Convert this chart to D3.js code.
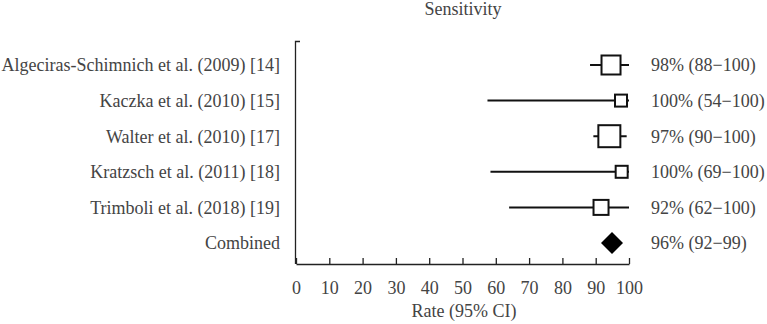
<!DOCTYPE html>
<html>
<head>
<meta charset="utf-8">
<script src="https://cdn.jsdelivr.net/npm/d3@7"></script>
<style>
  body { margin: 0; background: #fff; }
  text { font-family: "Liberation Serif", "DejaVu Serif", serif; fill: #444; }
</style>
</head>
<body>
<div id="chart"></div>
<script>
// Forest plot data
const studies = [
  "Algeciras-Schimnich et al. (2009) [14]",
  "Kaczka et al. (2010) [15]",
  "Walter et al. (2010) [17]",
  "Kratzsch et al. (2011) [18]",
  "Trimboli et al. (2018) [19]",
  "Combined"
];
const estimates = [94.6, 97.6, 94.1, 97.8, 91.6, 94.9];
const lower = [88.3, 57.5, 89.3, 58.4, 64, null];
const upper = [100, 100, 99.3, 100, 100, null];
const weights = [19, 12, 22, 12, 15, 22];   // marker size
const ciLabels = [
  "98% (88\u2212100)",
  "100% (54\u2212100)",
  "97% (90\u2212100)",
  "100% (69\u2212100)",
  "92% (62\u2212100)",
  "96% (92\u221299)"
];
const xTicks = [0, 10, 20, 30, 40, 50, 60, 70, 80, 90, 100];

const width = 767, height = 324;
const fontSize = "18px";
const svg = d3.select("#chart").append("svg")
  .attr("width", width)
  .attr("height", height);

const x = d3.scaleLinear().domain([0, 100]).range([296, 629]);
const y = d3.scalePoint().domain(studies).range([65, 243]);

// title
svg.append("text")
  .attr("x", 463).attr("y", 15)
  .attr("text-anchor", "middle")
  .style("font-size", fontSize)
  .text("Sensitivity");

// left axis line with small top tick
svg.append("path")
  .attr("d", `M${x(0) + 4},41.5 H${x(0) - 0.5} V${264}`)
  .attr("fill", "none")
  .attr("stroke", "#222")
  .attr("stroke-width", 1.3);

// x axis (ticks pointing up)
const xAxis = svg.append("g")
  .attr("transform", "translate(0,264)")
  .call(d3.axisBottom(x).tickValues(xTicks).tickSizeInner(-6).tickSizeOuter(0).tickPadding(17));
xAxis.select(".domain").attr("stroke", "#222").attr("stroke-width", 1.3);
xAxis.selectAll(".tick line").attr("stroke", "#222").attr("stroke-width", 1.3);
xAxis.selectAll(".tick text")
  .style("font-size", fontSize)
  .style("font-family", "'Liberation Serif', serif")
  .attr("fill", "#444");

svg.append("text")
  .attr("x", 464).attr("y", 317)
  .attr("text-anchor", "middle")
  .style("font-size", fontSize)
  .text("Rate (95% CI)");

// study labels
svg.append("g").selectAll("text")
  .data(studies)
  .join("text")
  .attr("x", 280)
  .attr("y", d => y(d))
  .attr("dy", "0.35em")
  .attr("text-anchor", "end")
  .style("font-size", fontSize)
  .text(d => d);

// CI labels
svg.append("g").selectAll("text")
  .data(ciLabels)
  .join("text")
  .attr("x", 651)
  .attr("y", (d, i) => y(studies[i]))
  .attr("dy", "0.35em")
  .style("font-size", fontSize)
  .text(d => d);

const rows = studies.map((s, i) => ({
  name: s, est: estimates[i], lo: lower[i], hi: upper[i], w: weights[i]
}));

// CI lines
svg.append("g").selectAll("line")
  .data(rows.filter(d => d.lo !== null))
  .join("line")
  .attr("x1", d => x(d.lo))
  .attr("x2", d => x(d.hi))
  .attr("y1", d => y(d.name))
  .attr("y2", d => y(d.name))
  .attr("stroke", "#111")
  .attr("stroke-width", 2);

// squares
svg.append("g").selectAll("rect")
  .data(rows.filter(d => d.name !== "Combined"))
  .join("rect")
  .attr("x", d => x(d.est) - d.w / 2)
  .attr("y", d => y(d.name) - d.w / 2)
  .attr("width", d => d.w)
  .attr("height", d => d.w)
  .attr("fill", "#fff")
  .attr("stroke", "#111")
  .attr("stroke-width", 2);

// combined diamond
const comb = rows.find(d => d.name === "Combined");
const cx = x(comb.est), cy = y(comb.name), h = comb.w / 2;
svg.append("path")
  .attr("d", `M${cx - h},${cy} L${cx},${cy - h} L${cx + h},${cy} L${cx},${cy + h} Z`)
  .attr("fill", "#000");
</script>
</body>
</html>
